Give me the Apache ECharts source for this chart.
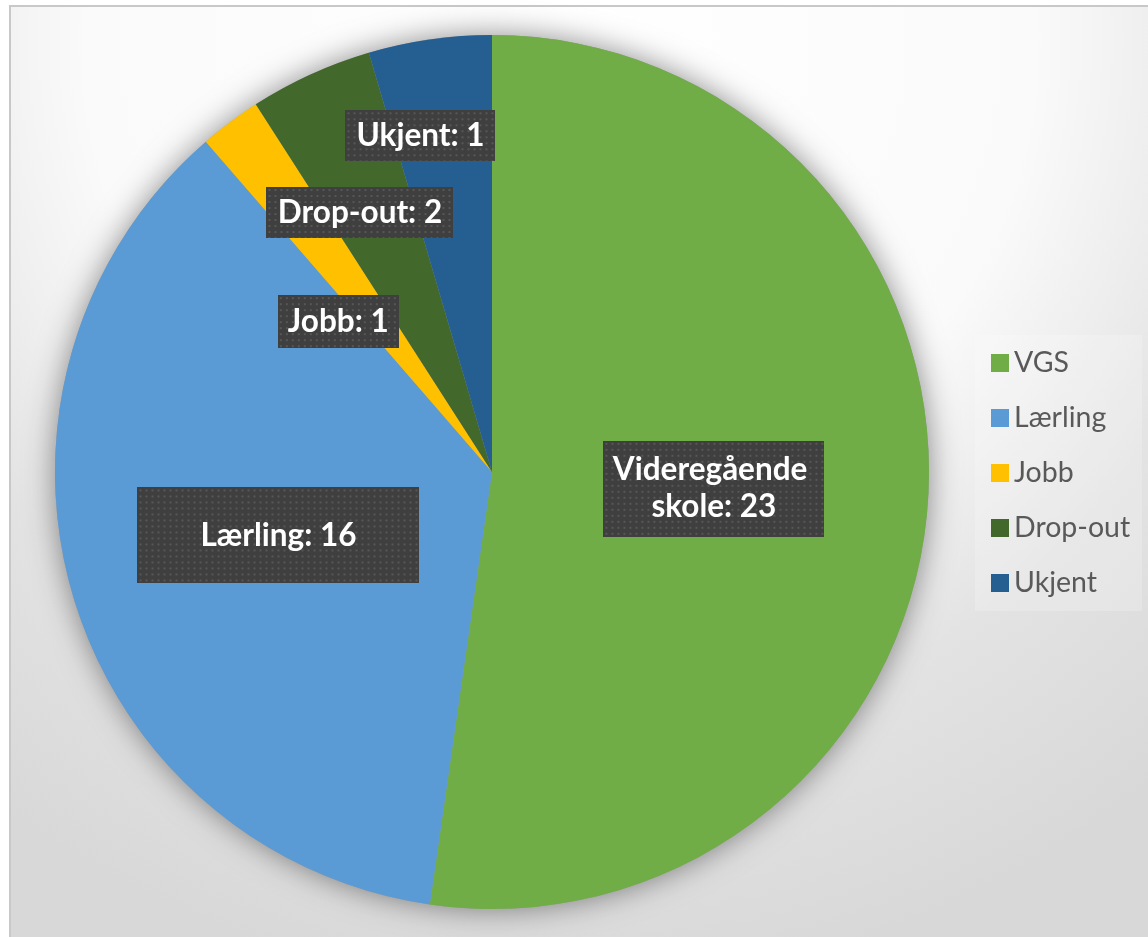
<!DOCTYPE html>
<html>
<head>
<meta charset="utf-8">
<script src="https://cdn.jsdelivr.net/npm/echarts@6/dist/echarts.min.js"></script>
<style>
html,body{margin:0;padding:0;background:#fff;}
#chart{width:1148px;height:937px;}
</style>
</head>
<body>
<div id="chart"></div>
<script>
// ---- data ----
var categories = ['VGS', 'Lærling', 'Jobb', 'Drop-out', 'Ukjent'];
var labelNames = ['Videregående skole', 'Lærling', 'Jobb', 'Drop-out', 'Ukjent'];
var sliceValues = [23, 16, 1, 2, 2];   // slice sizes as drawn
var labelValues = [23, 16, 1, 2, 1];   // numbers printed on labels
var colors = ['#70ad47', '#5b9bd5', '#ffc000', '#43682b', '#255e91'];

// ---- label layout (box sizes and shifts) ----
var boxWidths = [221, 282, 121, 187, 150];
var boxPads = [[11, 0], [30, 0, 29, 0], [8, 0], [7, 0], [7, 0]];
var labelShift = [[1, 1], [-1, 1], [-21, 27], [-40, -58], [-40, -117]];
var LH = 37;

function dotCanvas(w, h) {
  var c = document.createElement('canvas');
  c.width = w; c.height = h;
  var g = c.getContext('2d');
  g.fillStyle = '#3f3f3f';
  g.fillRect(0, 0, w, h);
  g.fillStyle = '#575757';
  for (var y = 2; y < h; y += 6) {
    for (var x = 2; x < w; x += 6) {
      g.fillRect(x, y, 2, 2);
    }
  }
  return c;
}

var chart = echarts.init(document.getElementById('chart'), null, {renderer: 'canvas'});

var pieData = categories.map(function (name, i) {
  var p = boxPads[i];
  var padT = p[0], padB = p.length > 2 ? p[2] : p[0];
  var lines = i === 0 ? 2 : 1;
  var h = padT + padB + lines * LH;
  return {
    name: name,
    value: sliceValues[i],
    itemStyle: {color: colors[i]},
    label: {
      width: boxWidths[i],
      padding: p,
      backgroundColor: {image: dotCanvas(boxWidths[i], h)}
    }
  };
});

var option = {
  animation: false,
  graphic: [{
    type: 'rect',
    z: -10,
    silent: true,
    shape: {x: 10, y: 6, width: 1160, height: 960},
    style: {
      fill: new echarts.graphic.RadialGradient(560, 40, 950, [
        {offset: 0, color: '#ffffff'},
        {offset: 0.5, color: '#fafafa'},
        {offset: 0.75, color: '#e3e3e3'},
        {offset: 1, color: '#d8d8d8'}
      ], true),
      stroke: '#c8c8c8',
      lineWidth: 2
    }
  }],
  legend: {
    data: categories,
    orient: 'vertical',
    left: 975,
    top: 335,
    padding: [13, 12, 13, 16],
    backgroundColor: 'rgba(255,255,255,0.2)',
    icon: 'rect',
    itemWidth: 18,
    itemHeight: 18,
    itemGap: 25,
    textStyle: {
      fontFamily: 'Lato',
      fontSize: 28.5,
      lineHeight: 30,
      color: '#595959'
    }
  },
  series: [
    {
      type: 'pie',
      name: 'shadow',
      silent: true,
      center: [492, 472],
      radius: 437,
      z: 1,
      legendHoverLink: false,
      label: {show: false},
      labelLine: {show: false},
      itemStyle: {
        color: '#999999',
        shadowBlur: 30,
        shadowColor: 'rgba(0,0,0,0.45)'
      },
      data: [{value: 1, name: '__bg'}]
    },
    {
      type: 'pie',
      name: 'Elever',
      center: [492, 472],
      radius: 437,
      startAngle: 90,
      clockwise: true,
      z: 2,
      avoidLabelOverlap: false,
      itemStyle: {borderWidth: 0},
      label: {
        show: true,
        position: 'inside',
        formatter: function (p) {
          return labelNames[p.dataIndex] + ': ' + labelValues[p.dataIndex];
        },
        fontFamily: 'Lato',
        fontWeight: 'bold',
        fontSize: 31.5,
        lineHeight: LH,
        color: '#ffffff',
        align: 'center',
        overflow: 'break',
        shadowColor: 'rgba(0,0,0,0.45)',
        shadowBlur: 6,
        shadowOffsetX: 3,
        shadowOffsetY: 3
      },
      labelLine: {show: false},
      labelLayout: function (params) {
        var s = labelShift[params.dataIndex] || [0, 0];
        return {dx: s[0], dy: s[1]};
      },
      data: pieData
    }
  ]
};
chart.setOption(option);
</script>
</body>
</html>
